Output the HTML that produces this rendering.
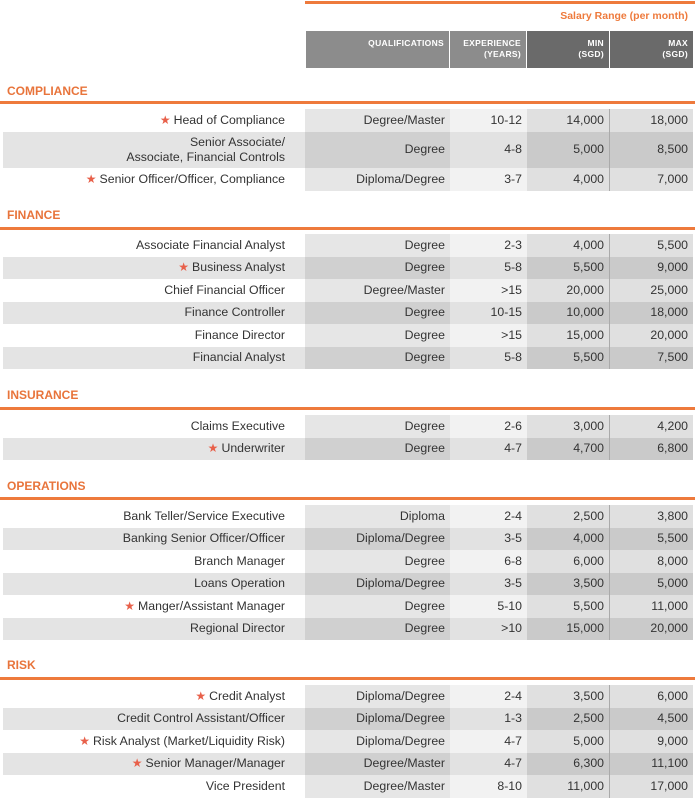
<!DOCTYPE html>
<html><head><meta charset="utf-8"><style>
body{margin:0;width:695px;height:800px;background:#fff;position:relative;overflow:hidden;font-family:"Liberation Sans",sans-serif;color:#333}
.abs{position:absolute}
.ol{position:absolute;left:0;width:695px;height:3px;background:#ee7a3c}
.sec{position:absolute;left:7px;font-size:12px;font-weight:bold;color:#e8743b}
.row{position:absolute;left:3px;width:690px;height:22.5px;font-size:12.3px}
.row div{position:absolute;top:0;bottom:0;display:flex;align-items:center;justify-content:flex-end;box-sizing:border-box;padding-right:5px;text-align:right;line-height:15px}
.n{left:0;width:302px;padding-right:20px!important}
.q{left:302px;width:145px}
.e{left:447px;width:77px}
.mn{left:524px;width:83px;border-right:1px solid #aaa}
.mx{left:607px;width:83px}
.l .n{background:#fff}.l .q{background:#e6e6e6}.l .e{background:#f2f2f2}.l .mn,.l .mx{background:#e0e0e0}
.d .n{background:#e4e4e4}.d .q{background:#d0d0d0}.d .e{background:#e2e2e2}.d .mn,.d .mx{background:#cacaca}
.s{color:#e8604a;font-size:12px;margin-right:3px}
.h{position:absolute;top:31px;height:37px;color:#fff;font-size:8.5px;font-weight:bold;text-align:right;box-sizing:border-box;padding:7px 5px 0 0;line-height:11px;letter-spacing:.3px}
</style></head><body>
<div class="abs" style="left:305px;top:1px;width:390px;height:3px;background:#ee7a3c"></div>
<div class="abs" style="right:7px;top:10px;font-size:10.5px;font-weight:bold;color:#ee7a3c">Salary Range (per month)</div>
<div class="h" style="left:306px;width:143px;background:#8c8c8c">QUALIFICATIONS</div>
<div class="h" style="left:450px;width:76px;background:#8c8c8c">EXPERIENCE<br>(YEARS)</div>
<div class="h" style="left:527px;width:82px;background:#6a6a6a">MIN<br>(SGD)</div>
<div class="h" style="left:610px;width:83px;background:#6a6a6a">MAX<br>(SGD)</div>

<div class="sec" style="top:84px">COMPLIANCE</div><div class="ol" style="top:101px"></div>
<div class="row l" style="top:109px"><div class="n"><span class="s">★</span>Head of Compliance</div><div class="q">Degree/Master</div><div class="e">10-12</div><div class="mn">14,000</div><div class="mx">18,000</div></div>
<div class="row d" style="top:131.5px;height:36.5px"><div class="n">Senior Associate/<br>Associate, Financial Controls</div><div class="q">Degree</div><div class="e">4-8</div><div class="mn">5,000</div><div class="mx">8,500</div></div>
<div class="row l" style="top:168px"><div class="n"><span class="s">★</span>Senior Officer/Officer, Compliance</div><div class="q">Diploma/Degree</div><div class="e">3-7</div><div class="mn">4,000</div><div class="mx">7,000</div></div>

<div class="sec" style="top:208px">FINANCE</div><div class="ol" style="top:227px"></div>
<div class="row l" style="top:234px"><div class="n">Associate Financial Analyst</div><div class="q">Degree</div><div class="e">2-3</div><div class="mn">4,000</div><div class="mx">5,500</div></div>
<div class="row d" style="top:256.5px"><div class="n"><span class="s">★</span>Business Analyst</div><div class="q">Degree</div><div class="e">5-8</div><div class="mn">5,500</div><div class="mx">9,000</div></div>
<div class="row l" style="top:279px"><div class="n">Chief Financial Officer</div><div class="q">Degree/Master</div><div class="e">&gt;15</div><div class="mn">20,000</div><div class="mx">25,000</div></div>
<div class="row d" style="top:301.5px"><div class="n">Finance Controller</div><div class="q">Degree</div><div class="e">10-15</div><div class="mn">10,000</div><div class="mx">18,000</div></div>
<div class="row l" style="top:324px"><div class="n">Finance Director</div><div class="q">Degree</div><div class="e">&gt;15</div><div class="mn">15,000</div><div class="mx">20,000</div></div>
<div class="row d" style="top:346.5px"><div class="n">Financial Analyst</div><div class="q">Degree</div><div class="e">5-8</div><div class="mn">5,500</div><div class="mx">7,500</div></div>

<div class="sec" style="top:388px">INSURANCE</div><div class="ol" style="top:407px"></div>
<div class="row l" style="top:415px"><div class="n">Claims Executive</div><div class="q">Degree</div><div class="e">2-6</div><div class="mn">3,000</div><div class="mx">4,200</div></div>
<div class="row d" style="top:437.5px"><div class="n"><span class="s">★</span>Underwriter</div><div class="q">Degree</div><div class="e">4-7</div><div class="mn">4,700</div><div class="mx">6,800</div></div>

<div class="sec" style="top:479px">OPERATIONS</div><div class="ol" style="top:497px"></div>
<div class="row l" style="top:505px"><div class="n">Bank Teller/Service Executive</div><div class="q">Diploma</div><div class="e">2-4</div><div class="mn">2,500</div><div class="mx">3,800</div></div>
<div class="row d" style="top:527.5px"><div class="n">Banking Senior Officer/Officer</div><div class="q">Diploma/Degree</div><div class="e">3-5</div><div class="mn">4,000</div><div class="mx">5,500</div></div>
<div class="row l" style="top:550px"><div class="n">Branch Manager</div><div class="q">Degree</div><div class="e">6-8</div><div class="mn">6,000</div><div class="mx">8,000</div></div>
<div class="row d" style="top:572.5px"><div class="n">Loans Operation</div><div class="q">Diploma/Degree</div><div class="e">3-5</div><div class="mn">3,500</div><div class="mx">5,000</div></div>
<div class="row l" style="top:595px"><div class="n"><span class="s">★</span>Manger/Assistant Manager</div><div class="q">Degree</div><div class="e">5-10</div><div class="mn">5,500</div><div class="mx">11,000</div></div>
<div class="row d" style="top:617.5px"><div class="n">Regional Director</div><div class="q">Degree</div><div class="e">&gt;10</div><div class="mn">15,000</div><div class="mx">20,000</div></div>

<div class="sec" style="top:658px">RISK</div><div class="ol" style="top:677px"></div>
<div class="row l" style="top:685px"><div class="n"><span class="s">★</span>Credit Analyst</div><div class="q">Diploma/Degree</div><div class="e">2-4</div><div class="mn">3,500</div><div class="mx">6,000</div></div>
<div class="row d" style="top:707.5px"><div class="n">Credit Control Assistant/Officer</div><div class="q">Diploma/Degree</div><div class="e">1-3</div><div class="mn">2,500</div><div class="mx">4,500</div></div>
<div class="row l" style="top:730px"><div class="n"><span class="s">★</span>Risk Analyst (Market/Liquidity Risk)</div><div class="q">Diploma/Degree</div><div class="e">4-7</div><div class="mn">5,000</div><div class="mx">9,000</div></div>
<div class="row d" style="top:752.5px"><div class="n"><span class="s">★</span>Senior Manager/Manager</div><div class="q">Degree/Master</div><div class="e">4-7</div><div class="mn">6,300</div><div class="mx">11,100</div></div>
<div class="row l" style="top:775px"><div class="n">Vice President</div><div class="q">Degree/Master</div><div class="e">8-10</div><div class="mn">11,000</div><div class="mx">17,000</div></div>
</body></html>
